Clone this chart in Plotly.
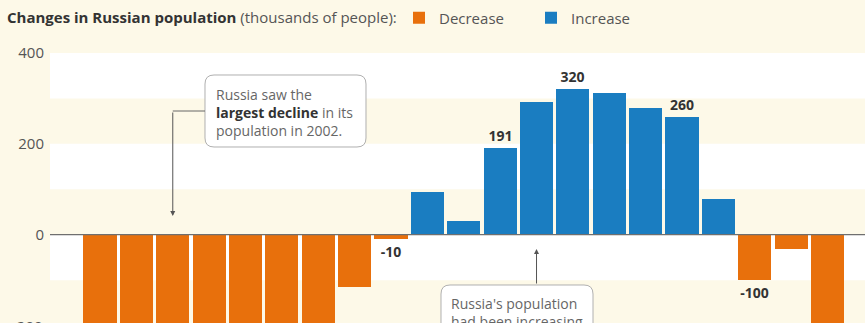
import plotly.graph_objects as go

# ---- data ----
years = list(range(2000, 2021))
changes = [-540, -650, -700, -690, -660, -650, -530, -115, -10,
           93, 31, 191, 292, 320, 311, 280, 260, 78,
           -100, -32, -510]
labels = ["", "", "", "", "", "", "", "", "-10",
          "", "", "191", "", "320", "", "", "260", "",
          "-100", "", ""]
y_ticks = [0, 200, 400]
cut_tick = -200
title_bold = "Changes in Russian population"
title_rest = " (thousands of people):"
note_decline = "Russia saw the<br><b style='color:#333'>largest decline</b> in its<br>population in 2002."
note_increase = "Russia's population<br>had been increasing<br>for nine years."
decline_year = 2002
increase_year = 2012

ORANGE = "#E8700C"
BLUE = "#1A7DC1"
CREAM = "#FDF9E8"
FONT = "Open Sans"

W_FIG, H_FIG = 865, 323
L, T, R, B = 50, 40, 0, 0
PW, PH = W_FIG - L - R, H_FIG - T - B
XMIN, XMAX = 1998.625, 2021.03
YMIN, YMAX = -194.3, 428.6


def px_x(px):
    return (px - L) / PW


def px_y(py):
    return (T + PH - py) / PH


def y_from_px(py):
    return YMAX - (py - T) / PH * (YMAX - YMIN)


def py_from_y(v):
    return T + (YMAX - v) / (YMAX - YMIN) * PH


def x_paper(xv):
    return (xv - XMIN) / (XMAX - XMIN)


def rounded(x0, y0, x1, y1, r):
    def P(a, b):
        return f"{px_x(a):.5f},{px_y(b):.5f}"
    return (f"M {P(x0 + r, y0)} L {P(x1 - r, y0)} Q {P(x1, y0)} {P(x1, y0 + r)} "
            f"L {P(x1, y1 - r)} Q {P(x1, y1)} {P(x1 - r, y1)} "
            f"L {P(x0 + r, y1)} Q {P(x0, y1)} {P(x0, y1 - r)} "
            f"L {P(x0, y0 + r)} Q {P(x0, y0)} {P(x0 + r, y0)} Z")


dec_x = [x for x, v in zip(years, changes) if v < 0]
dec_y = [v for v in changes if v < 0]
dec_t = [t for t, v in zip(labels, changes) if v < 0]
inc_x = [x for x, v in zip(years, changes) if v >= 0]
inc_y = [v for v in changes if v >= 0]
inc_t = [t for t, v in zip(labels, changes) if v >= 0]

fig = go.Figure()
for name, xs, ys, ts, col in [("Decrease", dec_x, dec_y, dec_t, ORANGE),
                              ("Increase", inc_x, inc_y, inc_t, BLUE)]:
    fig.add_trace(go.Bar(
        x=xs, y=ys, name=name, marker=dict(color=col, line=dict(width=0)),
        width=0.91, text=ts, texttemplate="<b>%{text}</b>",
        textposition="outside", constraintext="none", cliponaxis=False,
        textfont=dict(family=FONT, size=14, color="#333"),
        hoverinfo="x+y",
    ))

shapes = []
for lo, hi in [(300, 400), (100, 200), (-100, 0), (-300, -200)]:
    shapes.append(dict(type="rect", xref="paper", yref="y", x0=0, x1=1,
                       y0=lo, y1=hi, fillcolor="white", line=dict(width=0),
                       layer="below"))
shapes.append(dict(type="line", xref="paper", yref="y", x0=0, x1=1, y0=0, y1=0,
                   line=dict(color="#6f6f6f", width=1.3), layer="above"))
# note boxes
shapes.append(dict(type="path", xref="paper", yref="paper",
                   path=rounded(205, 75, 366, 147, 9),
                   fillcolor="white", line=dict(color="#b0b0b0", width=1), layer="above"))
shapes.append(dict(type="path", xref="paper", yref="paper",
                   path=rounded(441, 285, 593, 380, 9),
                   fillcolor="white", line=dict(color="#b0b0b0", width=1), layer="above"))
# elbow connector for the first note
shapes.append(dict(type="line", xref="paper", yref="paper",
                   x0=px_x(205), x1=x_paper(decline_year), y0=px_y(111), y1=px_y(111),
                   line=dict(color="#666", width=1), layer="above"))

annotations = [
    dict(xref="x", yref="y", x=decline_year, y=y_from_px(216), text="",
         showarrow=True, arrowhead=2, arrowsize=1, arrowwidth=1, arrowcolor="#555",
         ax=0, ay=-(216 - 111)),
    dict(xref="x", yref="y", x=increase_year, y=y_from_px(249), text="",
         showarrow=True, arrowhead=2, arrowsize=1, arrowwidth=1, arrowcolor="#555",
         ax=0, ay=(285 - 249)),
    dict(xref="paper", yref="paper", x=px_x(214), y=px_y(112), xanchor="left",
         yanchor="middle", align="left", showarrow=False, text=note_decline,
         font=dict(family=FONT, size=14, color="#666")),
    dict(xref="paper", yref="paper", x=px_x(449), y=px_y(292), xanchor="left",
         yanchor="top", align="left", showarrow=False, text=note_increase,
         font=dict(family=FONT, size=14, color="#666")),
    # partly visible -200 tick label at the bottom edge
    dict(xref="paper", yref="paper", x=px_x(45), y=px_y(py_from_y(cut_tick)),
         xanchor="right", yanchor="middle", showarrow=False, text=str(cut_tick),
         font=dict(family=FONT, size=15, color="#555")),
]

fig.update_layout(
    width=W_FIG, height=H_FIG,
    margin=dict(l=L, r=R, t=T, b=B, pad=0),
    paper_bgcolor=CREAM, plot_bgcolor=CREAM,
    font=dict(family=FONT, size=14, color="#555"),
    title=dict(text=f"<b style='color:#333'>{title_bold}</b>{title_rest}",
               xref="container", x=7 / W_FIG, xanchor="left",
               yref="container", y=1 - 18 / H_FIG, yanchor="middle",
               font=dict(family=FONT, size=15, color="#555")),
    showlegend=True,
    legend=dict(orientation="h", xref="container", yref="container",
                x=399 / W_FIG, xanchor="left", y=1 - 18 / H_FIG, yanchor="middle",
                bgcolor="rgba(0,0,0,0)", borderwidth=0,
                font=dict(family=FONT, size=15, color="#555"),
                entrywidth=87, entrywidthmode="pixels"),
    bargap=0,
    xaxis=dict(range=[XMIN, XMAX], showgrid=False, zeroline=False,
               showticklabels=False, showline=False, fixedrange=True),
    yaxis=dict(range=[YMIN, YMAX], tickvals=y_ticks, showgrid=False,
               zeroline=False, showline=False, ticks="", ticklabelstandoff=5,
               tickfont=dict(family=FONT, size=15, color="#555"), fixedrange=True),
    shapes=shapes,
    annotations=annotations,
)

fig.write_html("out.html")
